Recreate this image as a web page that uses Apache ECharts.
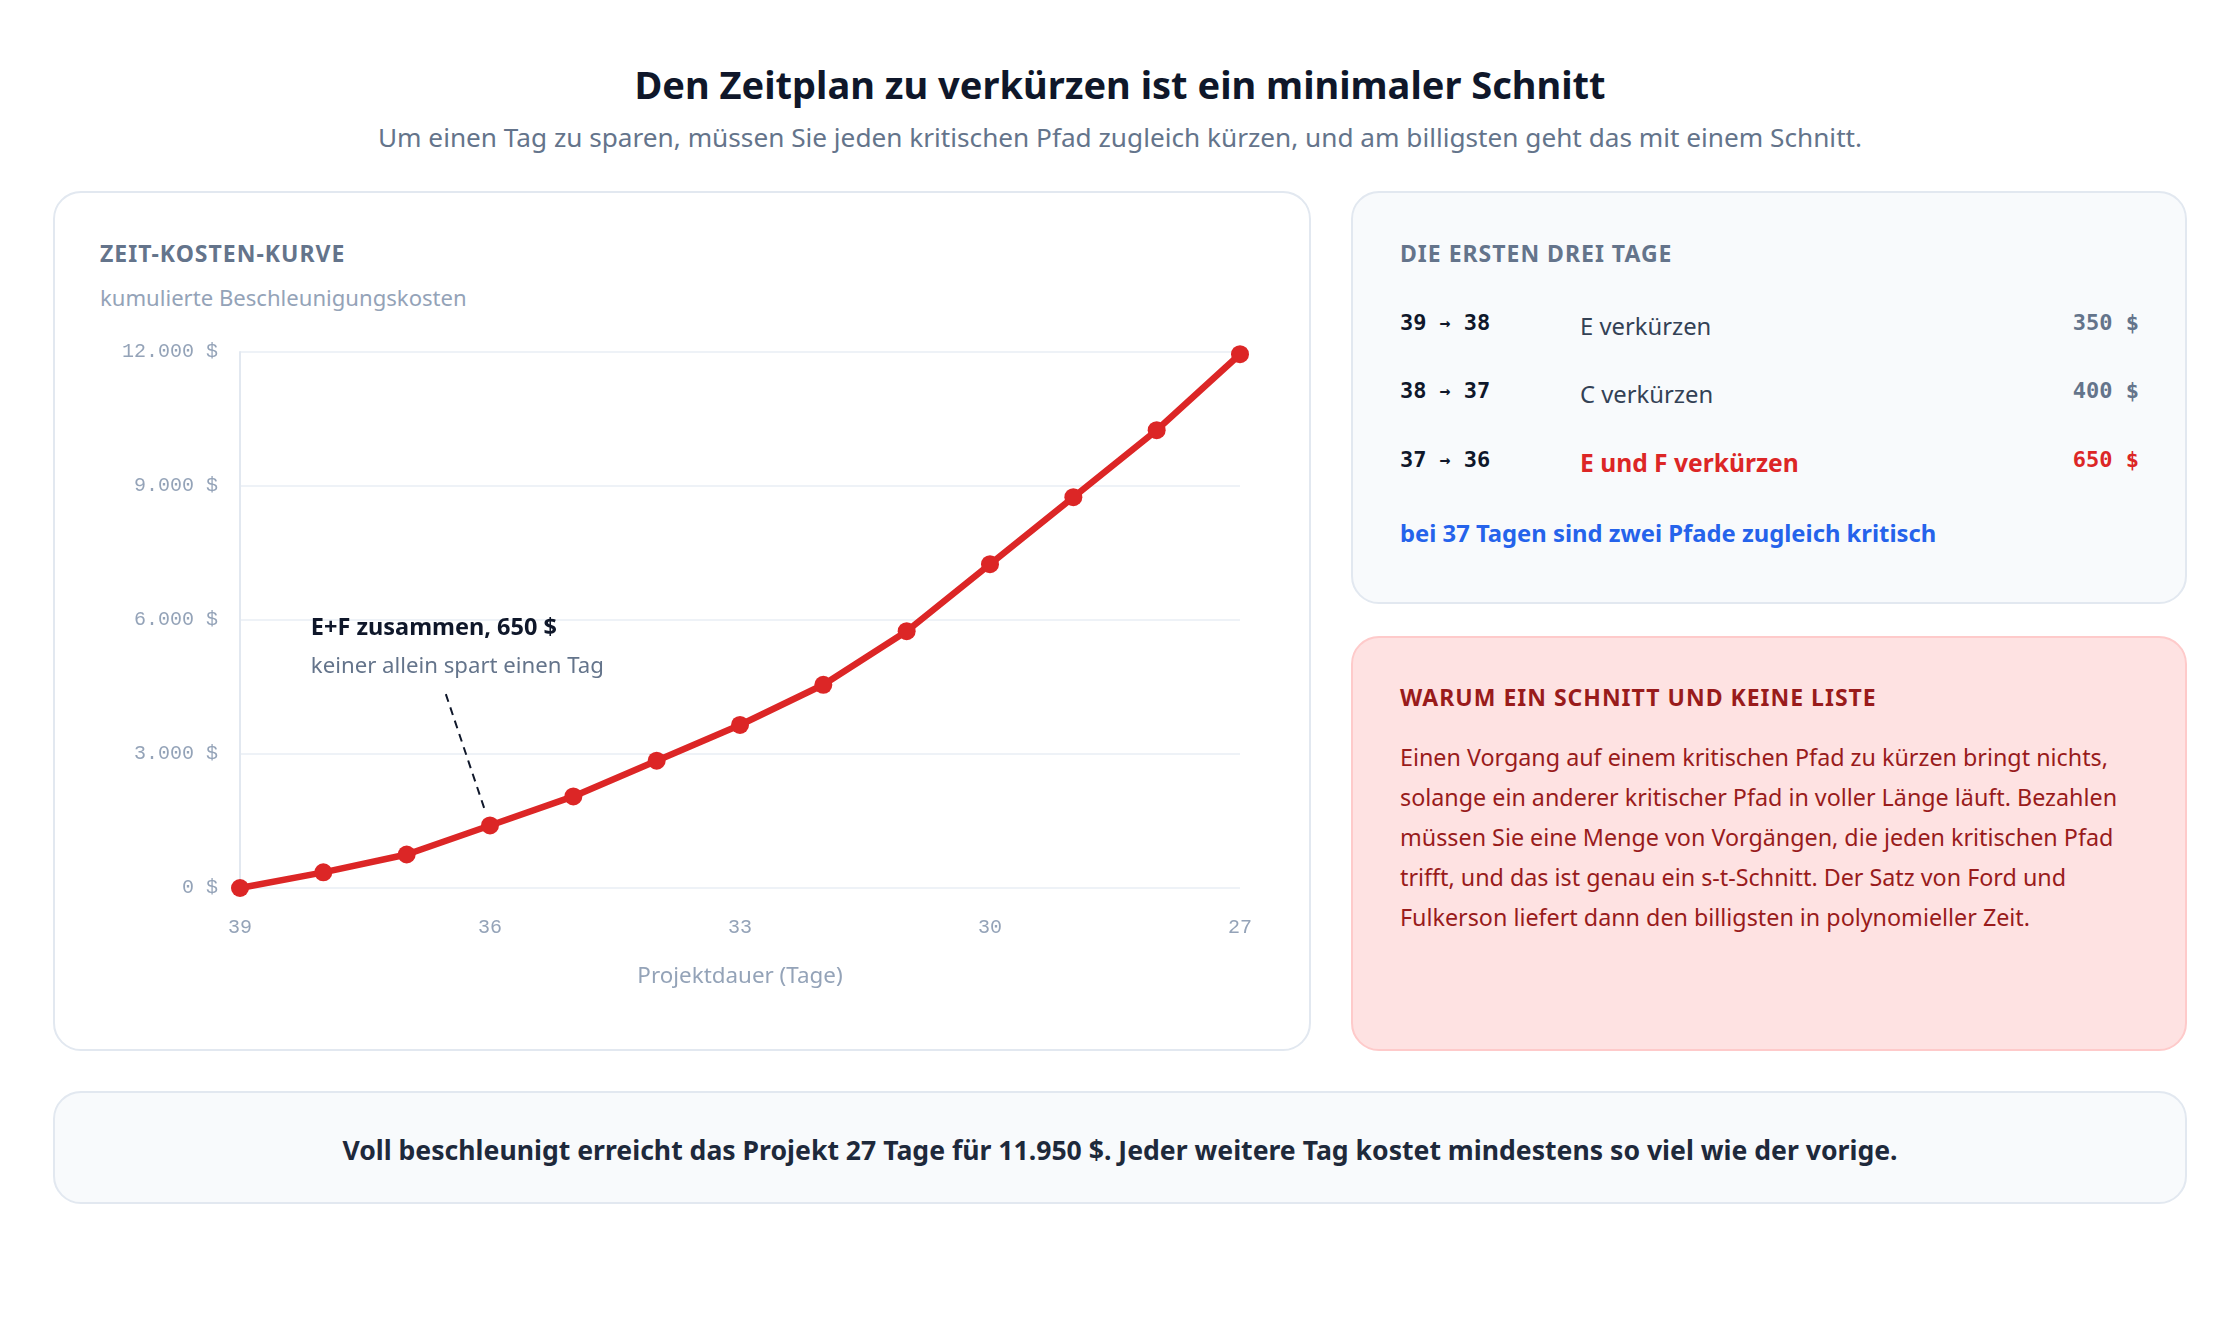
<!DOCTYPE html>
<html><head><meta charset="utf-8">
<script src="https://cdn.jsdelivr.net/npm/echarts@6/dist/echarts.min.js"></script>
<style>
html,body{margin:0;padding:0;background:#ffffff;}
body{width:2240px;height:1320px;position:relative;overflow:hidden;font-family:"Noto Sans","Open Sans",sans-serif;}
.abs{position:absolute;white-space:nowrap;}
.card{position:absolute;box-sizing:border-box;border:2px solid #e2e8f0;border-radius:28px;}
.mono{font-family:"DejaVu Sans Mono","Liberation Mono",monospace;}
.head{font-size:23px;font-weight:700;letter-spacing:1px;line-height:30px;}
</style>
</head>
<body>
<div class="abs" style="left:0;width:2240px;text-align:center;top:59px;line-height:50px;font-size:38px;font-weight:700;color:#0f172a;">Den Zeitplan zu verkürzen ist ein minimaler Schnitt</div>
<div class="abs" style="left:0;width:2240px;text-align:center;top:119px;line-height:36px;font-size:26.2px;color:#64748b;">Um einen Tag zu sparen, müssen Sie jeden kritischen Pfad zugleich kürzen, und am billigsten geht das mit einem Schnitt.</div>

<div class="card" style="left:53px;top:191px;width:1258px;height:860px;background:#ffffff;"></div>
<div class="abs head" style="left:100px;top:238px;color:#64748b;">ZEIT-KOSTEN-KURVE</div>
<div class="abs" style="left:100px;top:282px;line-height:30px;font-size:22.1px;color:#94a3b8;">kumulierte Beschleunigungskosten</div>
<div id="chart" class="abs" style="left:53px;top:191px;width:1258px;height:860px;"></div>

<div class="card" style="left:1351px;top:191px;width:836px;height:413px;background:#f8fafc;"></div>
<div class="abs head" style="left:1400px;top:238px;color:#64748b;">DIE ERSTEN DREI TAGE</div>
<div id="rows"></div>
<div class="abs" style="left:1400px;top:517px;line-height:32px;font-size:23.8px;font-weight:700;color:#2563eb;">bei 37 Tagen sind zwei Pfade zugleich kritisch</div>

<div class="card" style="left:1351px;top:636px;width:836px;height:415px;background:#fee2e2;border-color:#fecaca;"></div>
<div class="abs head" style="left:1400px;top:682px;color:#991b1b;">WARUM EIN SCHNITT UND KEINE LISTE</div>
<div class="abs" style="left:1400px;top:737px;line-height:40px;font-size:23.3px;color:#991b1b;">Einen Vorgang auf einem kritischen Pfad zu kürzen bringt nichts,<br>solange ein anderer kritischer Pfad in voller Länge läuft. Bezahlen<br>müssen Sie eine Menge von Vorgängen, die jeden kritischen Pfad<br>trifft, und das ist genau ein s-t-Schnitt. Der Satz von Ford und<br>Fulkerson liefert dann den billigsten in polynomieller Zeit.</div>

<div class="card" style="left:53px;top:1091px;width:2134px;height:113px;background:#f8fafc;"></div>
<div class="abs" style="left:0;width:2240px;text-align:center;top:1132px;line-height:36px;font-size:26.6px;font-weight:700;color:#1e293b;">Voll beschleunigt erreicht das Projekt 27 Tage für 11.950 $. Jeder weitere Tag kostet mindestens so viel wie der vorige.</div>

<script>
// ---- data ----
const days = [39, 38, 37, 36, 35, 34, 33, 32, 31, 30, 29, 28, 27];
const cumulativeCost = [0, 350, 750, 1400, 2050, 2850, 3650, 4550, 5750, 7250, 8750, 10250, 11950];
const stepFrom = ['39', '38', '37'];
const stepTo = ['38', '37', '36'];
const stepAction = ['E verkürzen', 'C verkürzen', 'E und F verkürzen'];
const stepCost = ['350 $', '400 $', '650 $'];
const stepHighlight = [false, false, true];
const annoTitle = 'E+F zusammen, 650 $';
const annoSub = 'keiner allein spart einen Tag';
const annoLineFrom = [36.53, 4340];
const annoLineTo = [36.07, 1790];
const annoTextAnchor = [38.15, 5820];

// ---- right table ----
const rowsEl = document.getElementById('rows');
const rowCenters = [323, 391, 460];
stepFrom.forEach((f, i) => {
  const c = rowCenters[i];
  const hl = stepHighlight[i];
  rowsEl.insertAdjacentHTML('beforeend',
    `<div class="abs mono" style="left:1400px;top:${c-16}px;line-height:32px;font-size:22px;font-weight:700;color:#0f172a;">${f} <span style="font-size:18px;position:relative;top:-1px;">→</span> ${stepTo[i]}</div>` +
    `<div class="abs" style="left:1580px;top:${c-15}px;line-height:36px;${hl?'font-size:24.6px;font-weight:700;color:#dc2626;':'font-size:23.8px;color:#334155;'}">${stepAction[i]}</div>` +
    `<div class="abs mono" style="left:1900px;width:239px;text-align:right;top:${c-16}px;line-height:32px;font-size:22px;font-weight:700;color:${hl?'#dc2626':'#64748b'};">${stepCost[i]}</div>`);
});

// ---- chart ----
const fmt = v => String(v).replace(/\B(?=(\d{3})+(?!\d))/g, '.') + ' $';
const monoFont = '"Liberation Mono","DejaVu Sans Mono",monospace';
const sansFont = '"Noto Sans","Open Sans",sans-serif';
const chart = echarts.init(document.getElementById('chart'), null, {renderer: 'canvas'});
chart.setOption({
  animation: false,
  grid: {left: 187, right: 71, top: 161, bottom: 163},
  xAxis: {
    type: 'value', min: 27, max: 39, interval: 3, inverse: true,
    name: 'Projektdauer (Tage)', nameLocation: 'middle', nameGap: 78,
    nameTextStyle: {color: '#94a3b8', fontSize: 22.4, fontFamily: sansFont},
    axisLine: {show: false}, axisTick: {show: false}, splitLine: {show: false},
    axisLabel: {color: '#94a3b8', fontSize: 20, fontFamily: monoFont, margin: 30}
  },
  yAxis: {
    type: 'value', min: 0, max: 12000, interval: 3000,
    axisLine: {show: true, lineStyle: {color: '#e2e8f0', width: 2}},
    axisTick: {show: false},
    splitLine: {lineStyle: {color: '#eef2f7', width: 2}},
    axisLabel: {color: '#94a3b8', fontSize: 20, fontFamily: monoFont, margin: 22, formatter: fmt}
  },
  series: [{
    type: 'line',
    data: days.map((d, i) => [d, cumulativeCost[i]]),
    symbol: 'circle', symbolSize: 18,
    lineStyle: {color: '#dc2626', width: 6.5},
    itemStyle: {color: '#dc2626'},
    z: 3,
    markLine: {
      silent: true, symbol: ['none', 'none'], label: {show: false},
      lineStyle: {color: '#0f172a', width: 2, type: [8, 6]},
      data: [[{coord: annoLineFrom}, {coord: annoLineTo}]]
    }
  }]
});
const p = chart.convertToPixel({gridIndex: 0}, annoTextAnchor);
chart.setOption({
  graphic: [
    {type: 'text', x: p[0], y: p[1], style: {text: annoTitle, fill: '#0f172a', font: 'bold 23.5px "Noto Sans"', verticalAlign: 'middle'}},
    {type: 'text', x: p[0], y: p[1] + 39, style: {text: annoSub, fill: '#64748b', font: '22.2px "Noto Sans"', verticalAlign: 'middle'}}
  ]
});
</script>
</body></html>
